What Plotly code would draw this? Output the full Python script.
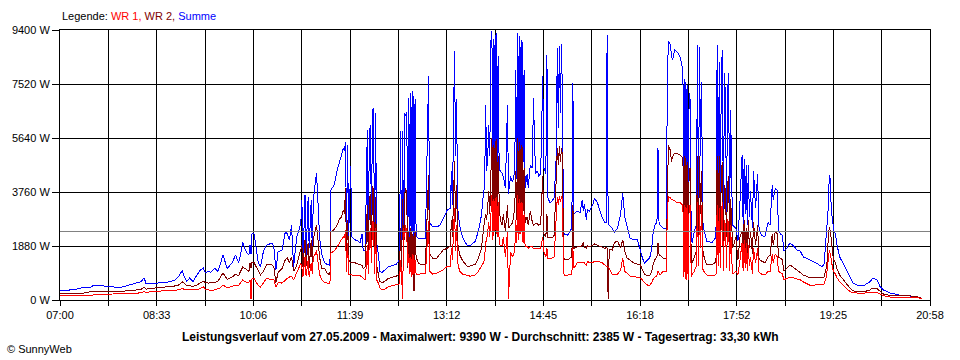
import plotly.graph_objects as go

# ---------------- data ----------------
tick_labels = ["07:00", "08:33", "10:06", "11:39", "13:12", "14:45", "16:18", "17:52", "19:25", "20:58"]
y_ticks = [0, 1880, 3760, 5640, 7520, 9400]
y_tick_labels = ["0 W", "1880 W", "3760 W", "5640 W", "7520 W", "9400 W"]
average_w = 2385
day_minutes = 838  # 07:00 -> 20:58

# minutes after 07:00
minutes = [
    0, 7, 10, 16, 22, 29, 32, 39, 45, 51,
    55, 61, 67, 74, 78, 81, 83, 87, 93, 99,
    106, 111, 114, 118, 119, 122, 125, 128, 132, 135,
    138, 140, 143,
    145, 149, 152, 154, 157, 161, 164, 166, 169, 172,
    174, 176, 178, 180, 182, 183, 184, 185, 187, 189,
    191, 193, 196, 199, 202, 204, 206, 208, 210, 214,
    217, 219, 221, 223, 225, 228, 230, 232, 233, 234,
    236, 237, 239, 240, 242, 243, 244, 246, 247, 248,
    250, 252, 255, 257, 260, 261, 264, 267, 269, 271,
    273, 274, 275, 276, 277, 278,
    280, 281, 284, 287, 289, 291, 292, 294, 295, 296,
    297, 298, 299, 300, 301, 302, 303, 304, 305, 307,
    308, 310, 313, 316, 320, 324, 327, 328, 329, 330,
    331, 332, 333, 334, 335, 336, 337, 338, 339, 340,
    341, 342, 343, 345, 348, 352, 355, 356, 359, 363,
    366, 369, 373, 376, 377, 378, 379, 380, 381, 382,
    383, 385, 388, 392, 395, 400, 403, 406, 408, 409,
    410, 411, 412, 413, 414, 415, 416, 417, 418, 419,
    420, 421, 422, 423, 424,
    426, 427, 429, 431, 432, 434, 436, 438, 439, 440,
    441, 442, 443, 444, 445, 446, 447, 448, 450, 451,
    453, 455, 456, 458, 460, 461, 463, 465, 466, 468,
    469, 470, 472, 474, 476, 478, 479, 480, 481, 482,
    483, 484, 485, 486, 489, 493, 494, 495, 498, 501,
    503, 504, 505, 507, 508, 510, 513, 515, 518, 522,
    525, 526, 527, 528, 529, 532, 534, 537, 540, 542,
    544, 546, 549, 552, 556, 559, 561, 563, 566, 568,
    570, 571, 573, 575, 576, 577, 578, 581, 584, 585,
    586, 588, 589, 590, 592, 594, 597, 600, 601, 602,
    603, 604, 605, 606, 607, 608, 609, 611, 613, 614,
    615, 616, 617, 618, 619, 620, 623, 628, 631, 632,
    633, 634, 635, 636, 637, 638, 639, 640, 641, 642,
    643, 644, 645, 646, 647, 648, 651, 653, 655, 657,
    658, 659, 660, 661, 662, 663, 664, 665, 667, 668,
    670, 672, 673, 674, 676, 679, 682, 684, 686, 687,
    689, 691, 692, 694, 696, 697, 700,
    703, 706, 710, 713, 716, 719, 722, 726, 729, 732,
    734, 736, 738, 739, 740, 741, 742, 743, 744, 745,
    747, 748, 751, 756, 761, 764, 768, 775, 780, 783,
    787, 790, 793, 800, 809, 819, 825, 830,
]

# Summe (W)
summe = [
    325, 330, 350, 380, 430, 430, 500, 520, 460, 460,
    420, 460, 520, 590, 640, 770, 560, 580, 590, 600,
    640, 700, 810, 1040, 870, 640, 770, 640, 870, 1040,
    1110, 940, 1000,
    960, 1110, 1000, 1200, 1570, 1100, 1200, 1300, 1570, 1300,
    1600, 2030, 1800, 1640, 1570, 1900, 1600, 2330, 2300, 1700,
    1300, 1150, 1700, 1910, 1950, 1980, 1850, 1040, 1670, 1740,
    2370, 2300, 2100, 2600, 1150, 2200, 2400, 2700, 3480, 1250,
    3650, 1500, 3580, 1800, 3480, 1700, 3500, 4200, 4420, 3800,
    2200, 1600, 1300, 1250, 1200, 3830, 4000, 4520, 4800, 5000,
    5290, 5200, 5500, 2300, 5400, 2200,
    4660, 2200, 2100, 2050, 2000, 2300, 1740, 1740, 4800, 5920,
    2000, 5800, 6100, 2500, 6610, 6680, 1800, 6500, 2000, 1500,
    1000, 950, 1050, 1150, 1200, 1250, 1400, 5880, 1500, 5900,
    1600, 6500, 6400, 6550, 1700, 7030, 1800, 7200, 2000, 7280,
    1900, 7000, 2230, 2150, 2150, 2150, 7800, 2700, 2550, 2550,
    2600, 2850, 3130, 3200, 4500, 3300, 6500, 8670, 5000, 7000,
    3200, 2600, 2160, 1910, 1880, 2050, 2400, 2960, 3790, 3900,
    6790, 4500, 5000, 6100, 5000, 9000, 9360, 4500, 9100, 5000,
    9300, 4800, 8500, 4600, 4490,
    4400, 4300, 3900, 6790, 3700, 4300, 4100, 4500, 8000, 4200,
    9300, 4500, 9200, 5000, 9050, 4800, 8000, 3900, 4400, 3900,
    4700, 4600, 7030, 4400, 4500, 4300, 4400, 7800, 4600, 4400,
    8530, 3550, 3380, 3450, 3550, 5000, 8770, 6000, 8850, 6500,
    8900, 7000, 2260, 2300, 2260, 2500, 7550, 3000, 3100, 3050,
    3480, 3100, 3350, 2800, 3150, 3100, 3300, 3550, 3350, 2900,
    2680, 2700, 9220, 2650, 2600, 2500, 2350, 2500, 3000, 3720,
    2900, 2600, 2160, 2100, 2100, 1740, 1460, 1290, 1400, 1460,
    1800, 2260, 2610, 2700, 5300, 2700, 2610, 2500, 2500, 7620,
    9020, 8880, 8500, 8360, 8700, 8660, 8500, 8010, 2400, 7700,
    3000, 7500, 2200, 7200, 6960, 2100, 2000, 2400, 2600, 8880,
    3000, 8800, 5000, 7600, 2800, 2500, 2050, 2000, 2150, 2600,
    8880, 3000, 8300, 2700, 8000, 8700, 2500, 7900, 7000, 3000,
    7200, 7900, 2800, 6600, 4000, 2600, 2500, 2050, 3450, 5050,
    2600, 4900, 3000, 4700, 2600, 4700, 2900, 3800, 2500, 4500,
    3200, 4400, 2600, 2400, 2250, 2200, 2700, 2600, 4000, 3500,
    3900, 3800, 2400, 2300, 2250, 1700, 1800,
    1980, 1900, 1740, 1700, 1500, 1450, 1400, 1350, 1280, 1200,
    1160, 1250, 2200, 2600, 3200, 4350, 4200, 3000, 2900, 2450,
    2300, 1980, 1500, 1160, 800, 580, 520, 520, 630, 760,
    700, 460, 350, 240, 170, 150, 120, 30,
]

# WR 2 (W)
wr2 = [
    210, 210, 210, 220, 230, 290, 290, 300, 300, 310,
    300, 310, 320, 350, 370, 450, 380, 400, 420, 430,
    460, 490, 520, 630, 600, 500, 490, 480, 520, 590,
    660, 600, 590,
    610, 600, 650, 760, 940, 720, 760, 800, 900, 850,
    1000, 1150, 1100, 1050, 1000, 1300, 1100, 1320, 1300, 1150,
    1040, 870, 1000, 1220, 1230, 1230, 1150, 600, 950, 1100,
    1400, 1460, 1300, 1500, 1000, 1200, 1500, 1810, 1900, 1150,
    2100, 1200, 2000, 1100, 2100, 1300, 2150, 2400, 2610, 2300,
    1500, 1100, 1100, 950, 870, 2370, 2450, 2610, 2800, 2890,
    3130, 3000, 3900, 1500, 2800, 1400,
    1300, 1300, 1300, 1250, 1250, 1200, 1100, 1150, 2000, 3300,
    1400, 3500, 3700, 1800, 3970, 3800, 1500, 3600, 1200, 900,
    650, 600, 650, 750, 800, 830, 900, 2500, 1000, 3500,
    1200, 3700, 3900, 3600, 1100, 2400, 1300, 2500, 1100, 2300,
    300, 2400, 1500, 1300, 1220, 1220, 4350, 1600, 1460, 1460,
    1600, 1740, 1800, 1880, 2800, 2200, 3500, 4840, 2700, 4000,
    2000, 1570, 1360, 1180, 1180, 1250, 1460, 1810, 2500, 2850,
    3000, 2800, 3300, 3790, 3000, 5000, 5640, 3100, 5400, 3300,
    5600, 3000, 5000, 3500, 2800,
    2600, 3000, 2400, 3300, 2500, 2600, 2700, 3200, 4500, 2800,
    5640, 3000, 5500, 3200, 5400, 3100, 4600, 2700, 2900, 2600,
    3100, 2700, 2600, 2650, 2650, 2600, 2650, 4300, 2300, 2200,
    3000, 2160, 2160, 2160, 2250, 4600, 5300, 4700, 5360, 4800,
    5300, 5000, 1500, 1400, 1400, 1500, 3300, 1800, 1850, 1850,
    1900, 2000, 1850, 1800, 1900, 1850, 1900, 1950, 1900, 1850,
    1800, 1850, 1800, 30, 1750, 1740, 2000, 2050, 1800, 2100,
    1700, 1460, 1400, 1300, 1250, 1220, 1050, 900, 840, 840,
    1000, 1200, 1400, 1500, 2000, 1600, 1550, 1460, 1460, 4500,
    5400, 5200, 4800, 5000, 5100, 5100, 5050, 4950, 2200, 5000,
    1800, 4800, 1400, 4500, 4600, 1300, 1300, 1500, 1700, 5000,
    2000, 5000, 3000, 4500, 1800, 1550, 1220, 1220, 1300, 1500,
    5000, 2500, 5000, 2000, 4500, 4800, 2000, 4000, 3800, 2200,
    4000, 4300, 2000, 3500, 2500, 1800, 2200, 1400, 2200, 2400,
    1800, 2800, 1800, 2500, 1500, 2800, 1800, 2400, 1600, 2700,
    1900, 2600, 1500, 1400, 1350, 1300, 1500, 1550, 2300, 1900,
    2400, 2300, 1500, 1450, 1400, 1000, 1100,
    1220, 1150, 1040, 950, 870, 830, 780, 780, 780, 780,
    780, 800, 1100, 1390, 2150, 2550, 2400, 2000, 1740, 1400,
    1300, 1120, 870, 630, 410, 320, 290, 290, 350, 420,
    400, 300, 210, 150, 150, 140, 120, 60,
]

# WR 1 (W)
wr1 = [
    140, 140, 140, 150, 160, 170, 170, 180, 190, 210,
    200, 210, 220, 230, 250, 290, 260, 290, 300, 310,
    320, 340, 350, 410, 380, 350, 350, 340, 360, 400,
    460, 380, 360,
    330, 350, 380, 420, 520, 420, 450, 470, 520, 500,
    600, 700, 650, 600, 620, 700, 20, 760, 750, 600,
    520, 450, 600, 760, 720, 720, 700, 450, 600, 590,
    700, 760, 800, 830, 700, 950, 1100, 1280, 1100, 800,
    1500, 830, 1400, 800, 1300, 900, 1500, 1600, 1740, 1500,
    900, 700, 600, 590, 560, 1640, 1700, 1850, 2000, 2100,
    2200, 2160, 2440, 970, 2000, 900,
    900, 870, 870, 870, 850, 800, 770, 700, 1200, 1900,
    900, 2200, 2500, 1300, 2750, 2700, 900, 2500, 700, 560,
    420, 350, 380, 450, 500, 520, 560, 1400, 900, 20,
    2500, 2200, 2600, 2300, 1200, 1600, 900, 1500, 800, 1600,
    900, 1400, 900, 870, 940, 940, 2750, 1000, 900, 940,
    1000, 1040, 1180, 1180, 1800, 1400, 2400, 3200, 1700, 2600,
    1300, 1000, 900, 870, 830, 870, 1000, 1180, 1300, 1460,
    2000, 2100, 2400, 2700, 2200, 3300, 3650, 2100, 3500, 2400,
    3600, 2200, 3400, 2000, 1900,
    1900, 2200, 1500, 2400, 30, 1650, 1500, 1700, 2800, 2000,
    3650, 2100, 3500, 2300, 3400, 2000, 3000, 1850, 1850, 1800,
    1850, 1850, 1800, 1810, 1810, 1810, 1810, 2200, 1700, 1500,
    1800, 1460, 1460, 1460, 1500, 3300, 3600, 3300, 3620, 3400,
    3600, 3500, 940, 870, 870, 900, 1800, 1100, 1290, 1290,
    1290, 1300, 1290, 1200, 1350, 1300, 1300, 1350, 1350, 1300,
    1200, 1150, 1150, 1150, 1100, 870, 900, 900, 1050, 1460,
    1000, 940, 830, 830, 800, 760, 700, 600, 520, 520,
    600, 700, 800, 850, 1000, 900, 870, 1000, 1000, 3100,
    3600, 3550, 3500, 3500, 3450, 3400, 3400, 3300, 800, 3300,
    700, 3300, 700, 3300, 3300, 800, 900, 1000, 1200, 3400,
    1200, 3300, 1800, 3300, 1100, 1000, 870, 850, 870, 900,
    3300, 1200, 3200, 1100, 3000, 3400, 1000, 2800, 2600, 1100,
    2800, 2700, 1000, 2600, 1400, 900, 1000, 870, 1400, 2000,
    1000, 2100, 1100, 2000, 1000, 1900, 1200, 1500, 900, 1800,
    1300, 1800, 1000, 950, 900, 870, 1000, 1000, 1600, 1300,
    1600, 1500, 1000, 950, 900, 700, 750,
    800, 780, 740, 700, 630, 580, 520, 520, 520, 520,
    530, 560, 800, 1050, 1400, 1740, 1600, 1300, 1150, 1000,
    900, 800, 630, 460, 290, 260, 240, 240, 270, 280,
    260, 200, 150, 100, 100, 100, 90, 40,
]

assert len(minutes) == len(summe) == len(wr2) == len(wr1), (len(minutes), len(summe), len(wr2), len(wr1))

# ---------------- figure ----------------
FONT = "Liberation Sans, Arial, sans-serif"
n_grid = 18
grid_vals = [i * day_minutes / n_grid for i in range(n_grid + 1)]
grid_text = []
for i in range(n_grid + 1):
    grid_text.append(tick_labels[i // 2] if i % 2 == 0 else "")

fig = go.Figure()
fig.add_trace(go.Scatter(x=minutes, y=summe, mode="lines", name="Summe",
                         line=dict(color="#0000FF", width=1)))
fig.add_trace(go.Scatter(x=minutes, y=wr2, mode="lines", name="WR 2",
                         line=dict(color="#800000", width=1)))
fig.add_trace(go.Scatter(x=minutes, y=wr1, mode="lines", name="WR 1",
                         line=dict(color="#FF0000", width=1)))

fig.add_shape(type="line", xref="x", yref="y", x0=0, x1=day_minutes,
              y0=average_w, y1=average_w, line=dict(color="#808080", width=1),
              layer="above")

fig.update_layout(
    width=960, height=360,
    margin=dict(l=60, r=30, t=30, b=60),
    paper_bgcolor="white", plot_bgcolor="white",
    showlegend=False, hovermode=False,
    font=dict(family=FONT, size=11, color="black"),
    xaxis=dict(range=[0, day_minutes], tickmode="array", tickvals=grid_vals,
               ticktext=grid_text, showgrid=True, gridcolor="black", gridwidth=1,
               ticks="outside", ticklen=5, tickcolor="black", tickwidth=1,
               showline=True, linecolor="black", linewidth=1, mirror=True,
               zeroline=False, tickfont=dict(family=FONT, size=11, color="black")),
    yaxis=dict(range=[0, 9400], tickmode="array", tickvals=y_ticks,
               ticktext=y_tick_labels, showgrid=True, gridcolor="black", gridwidth=1,
               ticks="outside", ticklen=7, tickcolor="black", tickwidth=1,
               showline=True, linecolor="black", linewidth=1, mirror=True,
               zeroline=False, tickfont=dict(family=FONT, size=11, color="black")),
)

fig.add_annotation(
    text=("Legende: <span style='color:#FF0000'>WR 1,</span> "
          "<span style='color:#800000'>WR 2,</span> "
          "<span style='color:#0000FF'>Summe</span>"),
    xref="paper", yref="paper", x=0.0, y=(300 - 16) / 270,
    xanchor="left", yanchor="middle", showarrow=False,
    font=dict(family=FONT, size=11, color="black"))

fig.add_annotation(
    text=("<b>Leistungsverlauf vom 27.05.2009 - Maximalwert: 9390 W - "
          "Durchschnitt: 2385 W - Tagesertrag: 33,30 kWh</b>"),
    xref="paper", yref="paper", x=(480 - 60) / 870, y=(300 - 337) / 270,
    xanchor="center", yanchor="middle", showarrow=False,
    font=dict(family=FONT, size=12, color="black"))

fig.add_annotation(
    text="© SunnyWeb",
    xref="paper", yref="paper", x=(5 - 60) / 870, y=(300 - 349) / 270,
    xanchor="left", yanchor="middle", showarrow=False,
    font=dict(family=FONT, size=11, color="black"))

post = (
    "document.body.style.margin='0';"
    "document.querySelectorAll('.scatterlayer path.js-line').forEach(function(p){"
    "p.style.shapeRendering='crispEdges';});"
)
fig.write_html("out.html", config={"displayModeBar": False}, post_script=post)
